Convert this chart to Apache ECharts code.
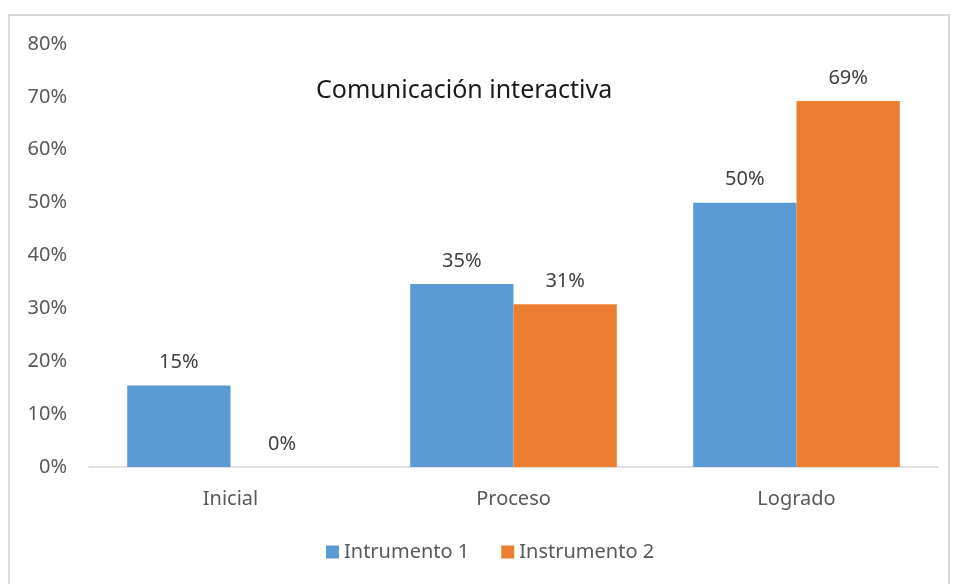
<!DOCTYPE html>
<html>
<head>
<meta charset="utf-8">
<script src="https://cdn.jsdelivr.net/npm/echarts@6/dist/echarts.min.js"></script>
<style>
  html, body { margin: 0; padding: 0; background: #fff; }
  #frame { position: absolute; left: 8px; top: 14px; width: 942px; height: 575px; border: 2px solid #d9d9d9; box-sizing: border-box; }
  #chart { position: absolute; left: 0; top: 0; width: 953px; height: 584px; }
</style>
</head>
<body>
<div id="frame"></div>
<div id="chart"></div>
<script>
var categories = ["Inicial", "Proceso", "Logrado"];
var seriesNames = ["Intrumento 1", "Instrumento 2"];
var instrumento1 = [15.4, 34.6, 50.0];
var instrumento2 = [0, 30.8, 69.2];
var colors = ["#5b9bd5", "#ed7d31"];

var fontFam = "'Noto Sans', 'Open Sans', sans-serif";
var chart = echarts.init(document.getElementById("chart"));

function pctLabel(p) {
    return Math.round(p.value) + "%";
}

chart.setOption({
    animation: false,
    textStyle: { fontFamily: fontFam },
    title: {
        text: "Comunicación interactiva",
        left: 311,
        top: 73,
        textStyle: { fontSize: 25, fontWeight: "normal", color: "#1a1a1a", fontFamily: fontFam }
    },
    legend: {
        data: seriesNames,
        bottom: 17,
        left: 321,
        itemWidth: 13,
        itemHeight: 13,
        itemGap: 32,
        icon: "rect",
        textStyle: { fontSize: 20, color: "#595959" }
    },
    grid: { left: 89, right: 15, top: 44, bottom: 117 },
    xAxis: {
        type: "category",
        data: categories,
        axisLine: { lineStyle: { color: "#d9d9d9", width: 1.5 } },
        axisTick: { show: false },
        axisLabel: { fontSize: 20, color: "#595959", margin: 22 }
    },
    yAxis: {
        type: "value",
        min: 0,
        max: 80,
        interval: 10,
        splitLine: { show: false },
        axisLine: { show: false },
        axisTick: { show: false },
        axisLabel: { fontSize: 20, color: "#595959", margin: 22, formatter: "{value}%" }
    },
    series: [
        {
            name: seriesNames[0],
            type: "bar",
            data: instrumento1,
            barGap: "0%",
            barCategoryGap: "27%",
            itemStyle: { color: colors[0] },
            label: { show: true, position: "top", distance: 13, fontSize: 20, color: "#404040", formatter: pctLabel }
        },
        {
            name: seriesNames[1],
            type: "bar",
            data: instrumento2,
            itemStyle: { color: colors[1] },
            label: { show: true, position: "top", distance: 13, fontSize: 20, color: "#404040", formatter: pctLabel }
        }
    ]
});
</script>
</body>
</html>
